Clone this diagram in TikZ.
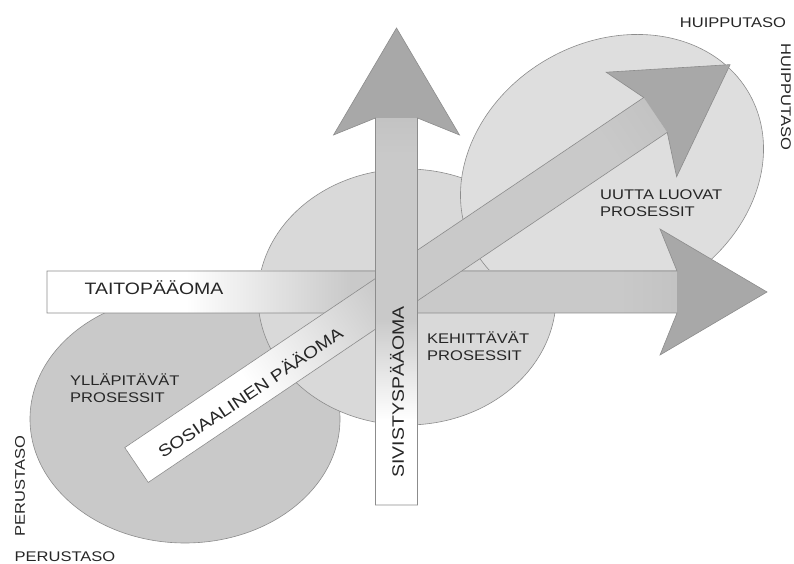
\documentclass[tikz,border=0pt]{standalone}
\usepackage{fontspec}
\newfontfamily\lblfont[FakeStretch=1.18]{Liberation Sans}
\definecolor{ringlow}{gray}{0.79}
\definecolor{ringmid}{gray}{0.85}
\definecolor{ringtop}{gray}{0.87}
\definecolor{bargray}{gray}{0.79}
\definecolor{headgray}{gray}{0.66}
\definecolor{edgegray}{gray}{0.55}
\pgfdeclarehorizontalshading{barshade}{100bp}{color(0bp)=(white); color(36bp)=(white); color(49bp)=(bargray); color(70bp)=(bargray); color(75bp)=(bargray!80!headgray); color(100bp)=(bargray!80!headgray)}
\newcommand*{\fatarrow}[1]{%
  \shade[shading=barshade] (0,-21) rectangle (#1,21);
  \fill[headgray] (#1,-21) -- ({#1-17},-63) -- ({#1+90},0) -- ({#1-17},63) -- (#1,21) -- cycle;
  \draw[arrowline] (0,-21) -- (#1,-21) -- ({#1-17},-63) -- ({#1+90},0) -- ({#1-17},63) -- (#1,21) -- (0,21) -- cycle;}
\tikzset{
  ring/.style={draw=edgegray, line width=0.6pt},
  arrowline/.style={draw=edgegray, line width=0.6pt, line join=miter},
  lbl/.style={font=\lblfont\fontsize{14}{17}\selectfont, text=black!85, inner sep=0pt, align=left},
  biglbl/.style={lbl, font=\lblfont\fontsize{16.5}{20}\selectfont}}

\begin{document}
\begin{tikzpicture}[x=1pt,y=1pt]
  \useasboundingbox (0,0) rectangle (794,564);
  \filldraw[ring, fill=ringlow] (185,145) ellipse [x radius=155, y radius=124];
  \filldraw[ring, fill=ringmid] (407,267) ellipse [x radius=149, y radius=128];
  \filldraw[ring, fill=ringtop, rotate around={30:(612,392)}] (612,392) ellipse [x radius=158, y radius=130];
  \begin{scope}[transform canvas={shift={(47,272)}}]
    \fatarrow{630}
  \end{scope}
  \begin{scope}[transform canvas={shift={(136.5,99)}, rotate=34}]
    \fatarrow{626}
  \end{scope}
  \begin{scope}[transform canvas={shift={(396.5,59)}, rotate=90}]
    \fatarrow{387}
  \end{scope}
  \node[lbl] (huippuh) at (733,541) {HUIPPUTASO};
  \node[lbl, rotate=-90] (huippuv) at (786,467) {HUIPPUTASO};
  \node[lbl, rotate=90] (perusv) at (20,78) {PERUSTASO};
  \node[lbl] (perush) at (65,7) {PERUSTASO};
  \node[biglbl] (taito) at (154,276) {TAITOP\"A\"AOMA};
  \node[biglbl, rotate=34] (sosiaali) at (250,172) {SOSIAALINEN P\"A\"AOMA};
  \node[biglbl, rotate=90] (sivistys) at (397,172) {SIVISTYSP\"A\"AOMA};
  \node[lbl, anchor=west] (yllapito) at (70,176) {YLL\"APIT\"AV\"AT\\PROSESSIT};
  \node[lbl, anchor=west] (kehitys) at (427,218) {KEHITT\"AV\"AT\\PROSESSIT};
  \node[lbl, anchor=west] (uutta) at (600,361) {UUTTA LUOVAT\\PROSESSIT};
\end{tikzpicture}
\end{document}
